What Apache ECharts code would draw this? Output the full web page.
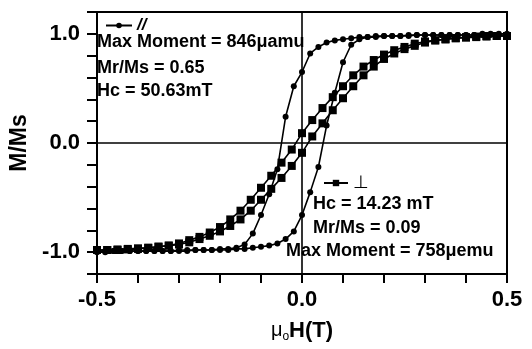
<!DOCTYPE html>
<html>
<head>
<meta charset="utf-8">
<script src="https://cdn.jsdelivr.net/npm/echarts@6/dist/echarts.min.js"></script>
<style>
  html, body { margin: 0; padding: 0; background: #fff; }
  #main { width: 532px; height: 349px; }
</style>
</head>
<body>
<div id="main"></div>
<script>
// field values (T), circles: in-plane (//) loop
const hCirc = [-0.50, -0.48, -0.46, -0.44, -0.42, -0.40, -0.38, -0.36, -0.34, -0.32,
  -0.30, -0.28, -0.26, -0.24, -0.22, -0.20, -0.18, -0.16, -0.14, -0.12,
  -0.10, -0.08, -0.06, -0.04, -0.02, 0.00, 0.02, 0.04, 0.06, 0.08,
  0.10, 0.12, 0.14, 0.16, 0.18, 0.20, 0.22, 0.24, 0.26, 0.28,
  0.30, 0.32, 0.34, 0.36, 0.38, 0.40, 0.42, 0.44, 0.46, 0.48, 0.50]
// upper branch (field going down)
const circDown = [-0.99, -0.99, -0.99, -0.99, -0.99, -0.99, -0.99, -0.99, -0.99, -0.99,
  -0.98, -0.98, -0.98, -0.98, -0.98, -0.97, -0.97, -0.96, -0.93, -0.83,
  -0.66, -0.47, -0.24, 0.24, 0.52, 0.65, 0.82, 0.88, 0.92, 0.94,
  0.95, 0.96, 0.97, 0.97, 0.98, 0.98, 0.98, 0.98, 0.99, 0.99,
  0.99, 0.99, 0.99, 0.99, 0.99, 0.99, 0.99, 1.00, 1.00, 1.00, 1.00]
// lower branch (field going up)
const circUp = [-1.00, -1.00, -0.99, -0.99, -0.99, -0.99, -0.99, -0.99, -0.99, -0.99,
  -0.99, -0.99, -0.98, -0.98, -0.98, -0.98, -0.98, -0.97, -0.97, -0.96,
  -0.95, -0.94, -0.92, -0.88, -0.81, -0.66, -0.45, -0.22, 0.16, 0.46,
  0.74, 0.90, 0.95, 0.97, 0.97, 0.98, 0.98, 0.98, 0.98, 0.99,
  0.99, 0.99, 0.99, 0.99, 0.99, 0.99, 0.99, 0.99, 0.99, 0.99, 0.99]

// squares: perpendicular loop
const hSq = [-0.500, -0.475, -0.450, -0.425, -0.400, -0.375, -0.350, -0.325, -0.300, -0.275,
  -0.250, -0.225, -0.200, -0.175, -0.150, -0.125, -0.100, -0.075, -0.050, -0.025,
  0.000, 0.025, 0.050, 0.075, 0.100, 0.125, 0.150, 0.175, 0.200, 0.225,
  0.250, 0.275, 0.300, 0.325, 0.350, 0.375, 0.400, 0.425, 0.450, 0.475, 0.500]
const sqDown = [-0.98, -0.98, -0.98, -0.975, -0.97, -0.96, -0.95, -0.94, -0.92, -0.89,
  -0.86, -0.82, -0.77, -0.70, -0.62, -0.52, -0.41, -0.30, -0.18, -0.06,
  0.09, 0.21, 0.32, 0.42, 0.52, 0.62, 0.70, 0.76, 0.81, 0.85,
  0.88, 0.91, 0.93, 0.94, 0.95, 0.96, 0.965, 0.97, 0.975, 0.98, 0.98]
const sqUp = [-0.98, -0.98, -0.975, -0.97, -0.965, -0.96, -0.95, -0.94, -0.93, -0.91,
  -0.88, -0.85, -0.81, -0.76, -0.70, -0.62, -0.52, -0.42, -0.32, -0.21,
  -0.09, 0.06, 0.18, 0.30, 0.41, 0.52, 0.62, 0.70, 0.77, 0.82,
  0.86, 0.89, 0.92, 0.94, 0.95, 0.96, 0.97, 0.975, 0.98, 0.98, 0.98]

const xLabels = [-0.5, 0, 0.5]
const yLabels = [-1, 0, 1]

let pairs = (xs, ys) => xs.map((x, i) => [x, ys[i]])
let font = "'Liberation Sans', Arial, sans-serif"

let lineStyle = { color: '#000', width: 1.6 }
let circ = (data) => ({
  name: '//', type: 'line', data: data, symbol: 'circle', symbolSize: 6,
  lineStyle: lineStyle, itemStyle: { color: '#000' }
})
let sq = (data) => ({
  name: '⊥', type: 'line', data: data, symbol: 'rect', symbolSize: 8,
  lineStyle: lineStyle, itemStyle: { color: '#000' }
})

let txt = (x, y, s) => ({
  type: 'text', left: x, top: y,
  style: { text: s, font: 'bold 18px ' + font, fill: '#000' }
})

let option = {
  animation: false,
  backgroundColor: '#fff',
  grid: { left: 97, right: 25, top: 12, bottom: 75, show: true, borderColor: '#000', borderWidth: 2 },
  legend: [
    {
      data: ['//'], left: 100, top: 12, itemWidth: 26, itemHeight: 7, itemGap: 5,
      textStyle: { fontFamily: font, fontSize: 17, fontStyle: 'italic', fontWeight: 'bold', color: '#000' }
    },
    {
      data: ['⊥'], left: 318, top: 169, itemWidth: 24, itemHeight: 8, itemGap: 3,
      textStyle: { fontFamily: font, fontSize: 18, color: '#000' }
    }
  ],
  xAxis: {
    type: 'value', min: -0.5, max: 0.5, interval: 0.1,
    name: '{mu|μ}{sub|o}{h|H(T)}', nameLocation: 'middle', nameGap: 44,
    nameTextStyle: {
      rich: {
        mu: { fontFamily: font, fontSize: 20, color: '#000' },
        sub: { fontFamily: font, fontSize: 12, color: '#000', padding: [13, 0, 0, 0] },
        h: { fontFamily: font, fontSize: 22, fontWeight: 'bold', color: '#000' }
      }
    },
    axisLine: { onZero: false, lineStyle: { color: '#000', width: 2 } },
    axisTick: { length: 9, lineStyle: { color: '#000', width: 2 } },
    splitLine: { show: false },
    axisLabel: {
      margin: 15, fontFamily: font, fontSize: 22, fontWeight: 'bold', color: '#000',
      formatter: (v) => xLabels.some((t) => Math.abs(t - v) < 1e-6) ? v.toFixed(1) : ''
    }
  },
  yAxis: {
    type: 'value', min: -1.2, max: 1.2, interval: 0.2,
    name: 'M/Ms', nameLocation: 'middle', nameGap: 60, nameRotate: 90,
    nameTextStyle: { fontFamily: font, fontSize: 23, fontWeight: 'bold', color: '#000' },
    axisLine: { onZero: false, lineStyle: { color: '#000', width: 2 } },
    axisTick: { length: 10, lineStyle: { color: '#000', width: 2 } },
    splitLine: { show: false },
    axisLabel: {
      margin: 17, fontFamily: font, fontSize: 22, fontWeight: 'bold', color: '#000',
      formatter: (v) => yLabels.some((t) => Math.abs(t - v) < 1e-6) ? (Math.abs(v) < 1e-6 ? '0.0' : v.toFixed(1)) : ''
    }
  },
  graphic: [
    txt(97, 33, 'Max Moment = 846μamu'),
    txt(97, 59, 'Mr/Ms = 0.65'),
    txt(97, 82, 'Hc = 50.63mT'),
    txt(313, 195, 'Hc = 14.23 mT'),
    txt(313, 219, 'Mr/Ms = 0.09'),
    txt(286, 242, 'Max Moment = 758μemu')
  ],
  series: [
    {
      ...circ(pairs(hCirc, circDown)),
      markLine: {
        symbol: 'none', silent: true, label: { show: false },
        lineStyle: { color: '#000', type: 'solid', width: 1.6 },
        data: [{ xAxis: 0 }, { yAxis: 0 }]
      }
    },
    circ(pairs(hCirc, circUp)),
    sq(pairs(hSq, sqDown)),
    sq(pairs(hSq, sqUp))
  ]
}

var chartDom = document.getElementById('main');
var myChart = echarts.init(chartDom);
option && myChart.setOption(option);
</script>
</body>
</html>
